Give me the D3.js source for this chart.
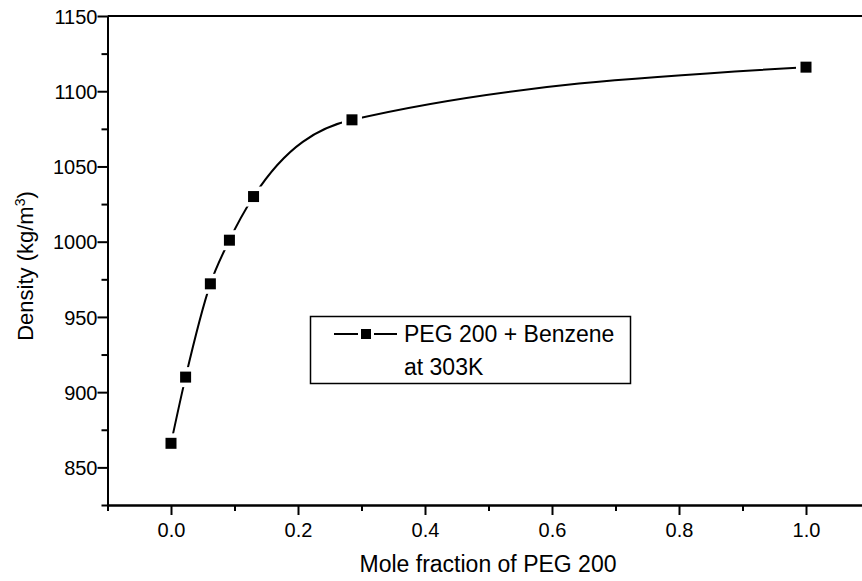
<!DOCTYPE html>
<html>
<head>
<meta charset="utf-8">
<script src="https://cdn.jsdelivr.net/npm/d3@7"></script>
<style>
  body { margin: 0; background: #fff; }
  svg { display: block; font-family: "Liberation Sans", Arial, sans-serif; }
</style>
</head>
<body>
<svg width="862" height="581"></svg>
<script>
// data
var moleFraction = [0.0, 0.023, 0.062, 0.092, 0.130, 0.285, 1.0];
var density = [866, 910, 972, 1001, 1030, 1081, 1116];
var xMajor = [0.0, 0.2, 0.4, 0.6, 0.8, 1.0];
var xMinor = [-0.1, 0.1, 0.3, 0.5, 0.7, 0.9, 1.1];
var yMajor = [850, 900, 950, 1000, 1050, 1100, 1150];
var yMinor = [825, 875, 925, 975, 1025, 1075, 1125];
var seriesName = ["PEG 200 + Benzene", "at 303K"];

var svg = d3.select("svg");

var x = d3.scaleLinear().domain([-0.1, 1.1]).range([107.5, 869.5]);
var y = d3.scaleLinear().domain([825, 1150]).range([505, 16]);

var points = moleFraction.map(function (d, i) { return [d, density[i]]; });

// curve
var line = d3.line()
    .x(function (d) { return x(d[0]); })
    .y(function (d) { return y(d[1]); })
    .curve(d3.curveMonotoneX);

svg.append("path")
    .datum(points)
    .attr("d", line)
    .attr("fill", "none")
    .attr("stroke", "#000")
    .attr("stroke-width", 2);

// markers, with white halo so the line looks broken near them
var m = svg.append("g");
m.selectAll("rect.halo")
    .data(points)
    .enter().append("rect")
    .attr("class", "halo")
    .attr("x", function (d) { return x(d[0]) - 10; })
    .attr("y", function (d) { return y(d[1]) - 10; })
    .attr("width", 20).attr("height", 20)
    .attr("fill", "#fff");
m.selectAll("rect.pt")
    .data(points)
    .enter().append("rect")
    .attr("class", "pt")
    .attr("x", function (d) { return x(d[0]) - 5.5; })
    .attr("y", function (d) { return y(d[1]) - 5.5; })
    .attr("width", 11).attr("height", 11)
    .attr("fill", "#000");

// axes
var xAxis = svg.append("g").attr("transform", "translate(0,505)");
xAxis.call(d3.axisBottom(x).tickValues(xMajor).tickSize(10).tickSizeOuter(0)
    .tickFormat(d3.format(".1f")));
var xMin = svg.append("g").attr("transform", "translate(0,505)");
xMin.call(d3.axisBottom(x).tickValues(xMinor).tickSize(6).tickSizeOuter(0).tickFormat(""));

var yAxis = svg.append("g").attr("transform", "translate(107.5,0)");
yAxis.call(d3.axisLeft(y).tickValues(yMajor).tickSize(10).tickSizeOuter(0)
    .tickFormat(d3.format("d")));
var yMin = svg.append("g").attr("transform", "translate(107.5,0)");
yMin.call(d3.axisLeft(y).tickValues(yMinor).tickSize(6).tickSizeOuter(0).tickFormat(""));

svg.selectAll(".domain").attr("stroke", "#000").attr("stroke-width", 2);
svg.selectAll(".tick line").attr("stroke", "#000").attr("stroke-width", 2);
svg.selectAll(".tick text")
    .attr("fill", "#000")
    .style("font-size", "20px")
    .style("font-family", "'Liberation Sans', Arial, sans-serif");
xAxis.selectAll(".tick text").attr("y", 13).attr("dy", "0.95em");
yAxis.selectAll(".tick text").attr("x", -10).attr("dy", "0.36em");

// top frame line
svg.append("line")
    .attr("x1", 107.5).attr("x2", 862)
    .attr("y1", y(1150)).attr("y2", y(1150))
    .attr("stroke", "#000").attr("stroke-width", 2);

// axis titles
svg.append("text")
    .attr("x", 488).attr("y", 572)
    .attr("text-anchor", "middle")
    .style("font-size", "23px")
    .text("Mole fraction of PEG 200");

var yt = svg.append("text")
    .attr("transform", "translate(33,266) rotate(-90)")
    .attr("text-anchor", "middle")
    .style("font-size", "22px");
yt.append("tspan").text("Density (kg/m");
yt.append("tspan").attr("dy", -8).style("font-size", "14px").text("3");
yt.append("tspan").attr("dy", 8).text(")");

// legend
var lg = svg.append("g");
lg.append("rect")
    .attr("x", 310.5).attr("y", 316.5)
    .attr("width", 320).attr("height", 67)
    .attr("fill", "#fff").attr("stroke", "#000").attr("stroke-width", 1.5);
lg.append("line")
    .attr("x1", 334).attr("x2", 397).attr("y1", 334).attr("y2", 334)
    .attr("stroke", "#000").attr("stroke-width", 2);
lg.append("rect")
    .attr("x", 358).attr("y", 328).attr("width", 16).attr("height", 12)
    .attr("fill", "#fff");
lg.append("rect")
    .attr("x", 361).attr("y", 329).attr("width", 10).attr("height", 10)
    .attr("fill", "#000");
lg.selectAll("text.lt")
    .data(seriesName)
    .enter().append("text")
    .attr("class", "lt")
    .attr("x", 404)
    .attr("y", function (d, i) { return 342 + i * 33; })
    .style("font-size", "23px")
    .text(function (d) { return d; });
</script>
</body>
</html>
